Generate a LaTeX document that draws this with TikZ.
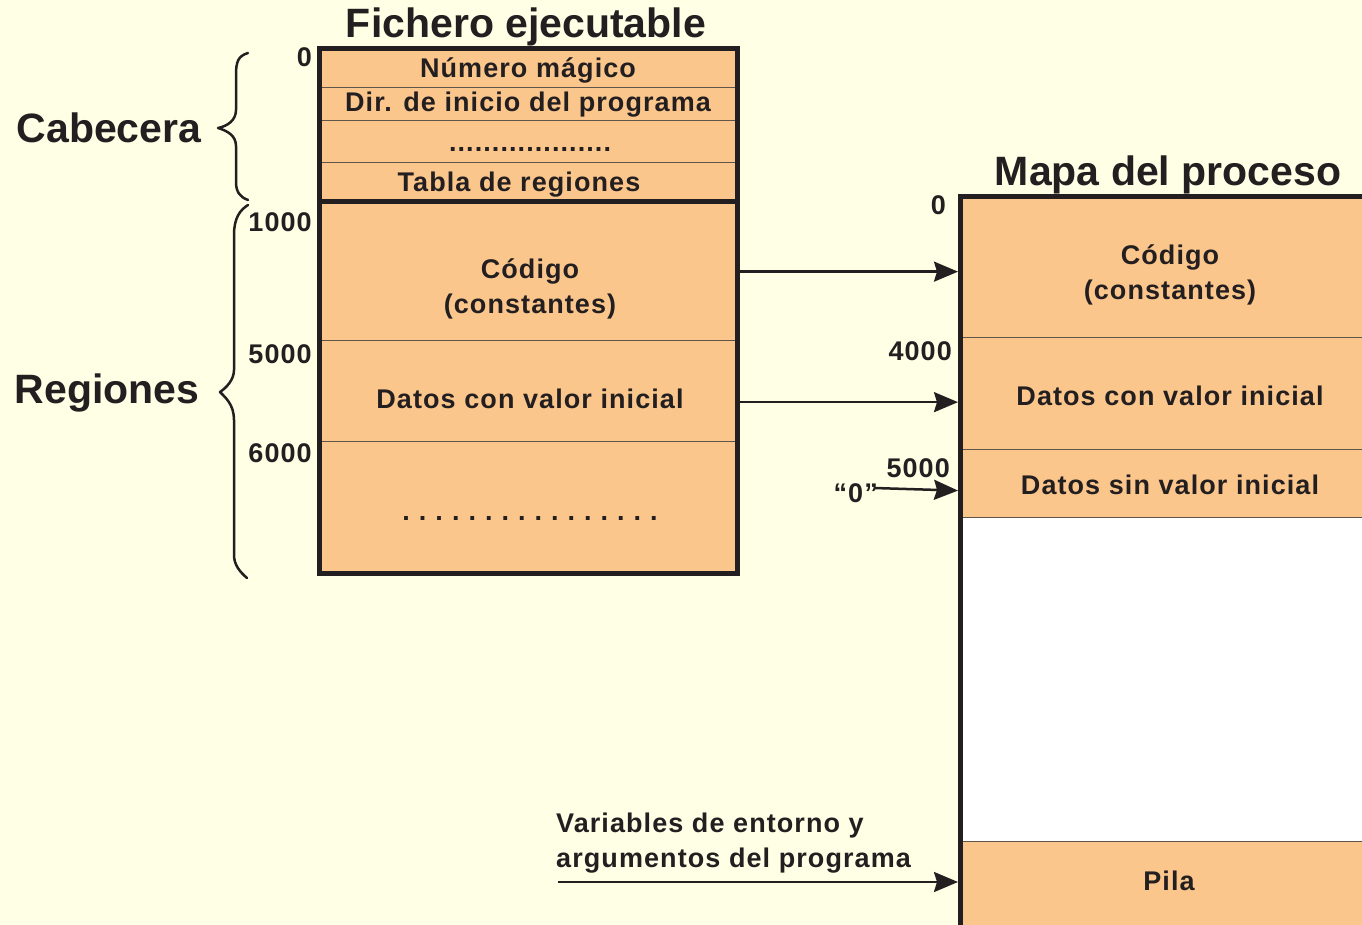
\documentclass[tikz,border=0pt]{standalone}
\usepackage{fontspec}
\setmainfont{Liberation Sans}
\newfontfamily\spfont{Liberation Sans}[LetterSpace=4]
\usetikzlibrary{arrows.meta,calc}
\definecolor{bg}{RGB}{255,255,230}
\definecolor{boxc}{RGB}{251,198,140}
\definecolor{ink}{RGB}{35,31,32}
\definecolor{rulec}{RGB}{95,85,75}
\tikzset{
 reg/.style={draw=rulec, line width=1.3pt, fill=boxc, inner sep=0pt, anchor=north west},
 lbl/.style={text=ink, font=\spfont\fontsize{27}{34}\selectfont\bfseries, inner sep=0pt, anchor=base},
 num/.style={lbl, anchor=base east},
 big/.style={text=ink, font=\fontsize{41}{44}\selectfont\bfseries, inner sep=0pt, anchor=base},
 conn/.style={draw=ink, line width=2.5pt, shorten >=2pt, -{Stealth[length=24pt,width=20pt,inset=3pt]}},
 frame/.style={draw=ink, line width=5pt},
 bracestyle/.style={draw=ink, line width=2.5pt, line cap=round, line join=round},
}
\begin{document}
\begin{tikzpicture}[x=1pt,y=-1pt]
\useasboundingbox (0,0) rectangle (1362,925);
\fill[bg] (0,0) rectangle (1362,925);
\clip (0,0) rectangle (1362,925);

% titles
\node[big] (tfich) at (526,38) {Fichero ejecutable};
\node[big] (tmapa) at (1168,186) {Mapa del proceso};
\node[big] (tcab) at (109,143) {Cabecera};
\node[big] (treg) at (107,403) {Regiones};

% left file regions
\node[reg, minimum width=418pt, minimum height=38pt] (hmag) at (319,49) {};
\node[reg, minimum width=418pt, minimum height=33pt] (hdir) at (319,87) {};
\node[reg, minimum width=418pt, minimum height=42pt] (hdots) at (319,120) {};
\node[reg, minimum width=418pt, minimum height=40pt] (htab) at (319,162) {};
\node[reg, minimum width=418pt, minimum height=138pt] (lcode) at (319,202) {};
\node[reg, minimum width=418pt, minimum height=101pt] (ldata) at (319,340) {};
\node[reg, minimum width=418pt, minimum height=132pt] (ldots) at (319,441) {};

\node[lbl] (tmag) at (528,78) {Número mágico};
\node[lbl] (tdir) at (528,112) {Dir. de inicio del programa};
\node[lbl] (tdots) at (530,152) {...................};
\node[lbl] (ttab) at (519,192) {Tabla de regiones};
\node[lbl] (tcode1) at (530,279) {Código};
\node[lbl] (tcode2) at (530,313) {(constantes)};
\node[lbl] (tdata) at (530,408) {Datos con valor inicial};
\node[lbl] (tdots2) at (530,520) {.\hspace{9pt}.\hspace{9pt}.\hspace{9pt}.\hspace{9pt}.\hspace{9pt}.\hspace{9pt}.\hspace{9pt}.\hspace{9pt}.\hspace{9pt}.\hspace{9pt}.\hspace{9pt}.\hspace{9pt}.\hspace{9pt}.\hspace{9pt}.\hspace{9pt}.};

% right map regions
\node[reg, minimum width=410pt, minimum height=140pt] (rcode) at (960,197) {};
\node[reg, minimum width=410pt, minimum height=112pt] (rdata) at (960,337) {};
\node[reg, minimum width=410pt, minimum height=68pt] (rsin) at (960,449) {};
\node[reg, fill=white, minimum width=410pt, minimum height=324pt] (rfree) at (960,517) {};
\node[reg, minimum width=410pt, minimum height=100pt] (rpila) at (960,841) {};

\node[lbl] (rcode1) at (1170,265) {Código};
\node[lbl] (rcode2) at (1170,299) {(constantes)};
\node[lbl] (rdatat) at (1170,405) {Datos con valor inicial};
\node[lbl] (rsint) at (1170,494) {Datos sin valor inicial};
\node[lbl] (pila) at (1169,890) {Pila};

% addresses
\node[num] (a0) at (312,67) {0};
\node[num] (a1000) at (312,232) {1000};
\node[num] (a5000) at (312,363) {5000};
\node[num] (a6000) at (312,462) {6000};
\node[num] (b0) at (946,215) {0};
\node[num] (b4000) at (952,360) {4000};
\node[num] (b5000) at (950,477) {5000};
\node[num] (zero) at (878,502) {“0”};
\node[lbl, anchor=base west, align=left] (env1) at (556,832) {Variables de entorno y};
\node[lbl, anchor=base west, align=left] (env2) at (556,867) {argumentos del programa};
\coordinate (envstart) at (558,882);
\coordinate (zstart) at (874,488);

% connectors
\draw[conn] (lcode.east) -- (lcode.east -| rcode.west);
\draw[conn] ([yshift=-11pt]ldata.east) -- ([yshift=-11pt]ldata.east -| rdata.west);
\draw[conn] (zstart) -- ([yshift=-7pt]rsin.west);
\draw[conn] (envstart) -- (envstart -| rpila.west);

% frames
\draw[frame] (319,49) rectangle (737,573);
\draw[frame] (319,202) -- (737,202);
\draw[frame] (960,940) -- (960,197) -- (1375,197);

% braces
\draw[bracestyle] (248,53) .. controls (238,56) and (236,62) .. (236,75) -- (236,110)
  .. controls (236,120) and (228,126) .. (218,128)
  .. controls (228,131) and (236,136) .. (236,146) -- (236,182)
  .. controls (236,192) and (240,197) .. (248,200);
\draw[bracestyle] (248,205) .. controls (240,210) and (234,218) .. (234,235) -- (234,370)
  .. controls (234,380) and (226,388) .. (220,392)
  .. controls (226,398) and (234,405) .. (234,420) -- (234,555)
  .. controls (234,565) and (240,572) .. (247,578);
\end{tikzpicture}
\end{document}
